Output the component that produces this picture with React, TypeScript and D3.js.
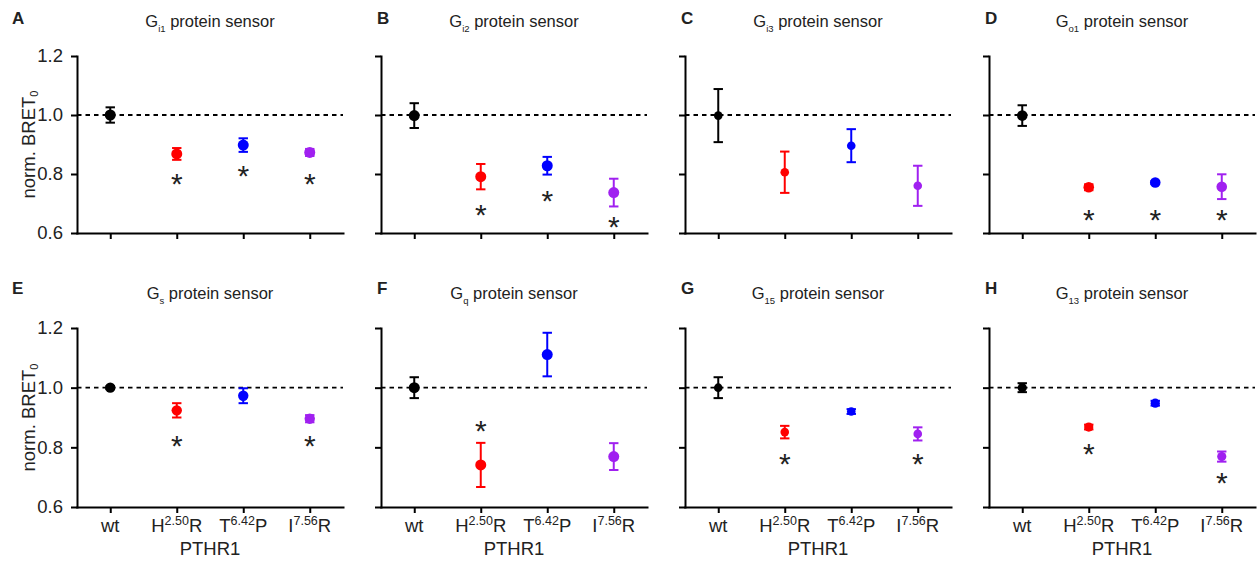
import { useEffect, useRef } from "react";
import * as d3 from "d3";

// categories on the x axis (PTHR1 variants)
const categories = ["wt", "H2.50R", "T6.42P", "I7.56R"];
const tickMain = ["wt", "H", "T", "I"];
const tickSup = ["", "2.50", "6.42", "7.56"];
const tickEnd = ["", "R", "P", "R"];

const panelLetters = ["A", "B", "C", "D", "E", "F", "G", "H"];
const sensorSub = ["i1", "i2", "i3", "o1", "s", "q", "15", "13"];

const yTicks = [0.6, 0.8, 1.0, 1.2];

// norm. BRET0 means, one row per panel (wt, H2.50R, T6.42P, I7.56R)
const means = [
  [1.0, 0.868, 0.898, 0.873],
  [0.998, 0.791, 0.828, 0.737],
  [0.998, 0.806, 0.896, 0.76],
  [0.998, 0.755, 0.771, 0.757],
  [1.0, 0.924, 0.973, 0.896],
  [1.0, 0.741, 1.111, 0.769],
  [1.0, 0.851, 0.92, 0.845],
  [1.0, 0.868, 0.948, 0.769],
];

// error bars (+/-)
const errors = [
  [0.026, 0.02, 0.023, 0.012],
  [0.042, 0.043, 0.03, 0.047],
  [0.09, 0.07, 0.056, 0.068],
  [0.035, 0.01, 0.005, 0.042],
  [0.005, 0.024, 0.025, 0.012],
  [0.035, 0.074, 0.073, 0.045],
  [0.035, 0.021, 0.008, 0.022],
  [0.015, 0.008, 0.008, 0.017],
];

// significance asterisks (value where the star sits, null = none)
const stars = [
  [null, 0.79, 0.817, 0.79],
  [null, 0.685, 0.732, 0.644],
  [null, null, null, null],
  [null, 0.668, 0.668, 0.668],
  [null, 0.83, null, 0.83],
  [null, 0.879, null, null],
  [null, 0.769, null, 0.769],
  [null, 0.802, null, 0.704],
];

const colors = ["#000000", "#ff0000", "#0000ff", "#a020f0"];
const markerRadius = [5.5, 5.5, 4.3, 5.3, 5.2, 5.5, 4.3, 4.6];

const FONT = "'Liberation Sans', Arial, Helvetica, sans-serif";

export default function App() {
  const ref = useRef<SVGSVGElement | null>(null);

  useEffect(() => {
    const svg = d3.select(ref.current);
    svg.selectAll("*").remove();

    const plotW = 266;
    const yRanges = [
      [233, 56],
      [507, 328],
    ];
    const titleY = [27, 299];
    const letterY = [24, 294];
    const starSize = 30;

    panelLetters.forEach((letter, i) => {
      const col = i % 4;
      const row = Math.floor(i / 4);
      const x0 = 77 + col * 304;

      const x = d3.scalePoint().domain(categories).range([0, plotW]).padding(0.5);
      const y = d3.scaleLinear().domain([0.6, 1.2]).range(yRanges[row]);

      const g = svg.append("g").attr("transform", `translate(${x0},0)`);

      // y axis
      const yAxis = d3
        .axisLeft(y)
        .tickValues(yTicks)
        .tickSize(6)
        .tickSizeOuter(0)
        .tickPadding(8)
        .tickFormat((d) => (col === 0 ? d3.format(".1f")(d as number) : ""));
      const ya = g.append("g").call(yAxis);
      ya.select(".domain").attr("stroke-width", 2).attr("stroke-linecap", "square");
      ya.selectAll(".tick line").attr("stroke-width", 2);
      ya.selectAll(".tick text")
        .attr("font-size", 18.5)
        .attr("font-family", FONT)
        .attr("fill", "#222");

      // x axis
      const xAxis = d3
        .axisBottom(x)
        .tickSize(6)
        .tickSizeOuter(0)
        .tickFormat(() => "");
      const xa = g
        .append("g")
        .attr("transform", `translate(0,${y(0.6)})`)
        .call(xAxis);
      xa.select(".domain").attr("stroke-width", 2).attr("stroke-linecap", "square");
      xa.selectAll(".tick line").attr("stroke-width", 2);

      // reference line at 1.0
      g.append("line")
        .attr("x1", 0)
        .attr("x2", plotW)
        .attr("y1", y(1))
        .attr("y2", y(1))
        .attr("stroke", "#000")
        .attr("stroke-width", 1.8)
        .attr("stroke-dasharray", "4.5,4");

      // error bars + points
      categories.forEach((c, j) => {
        const cx = x(c) as number;
        const m = means[i][j];
        const e = errors[i][j];
        const col_ = colors[j];
        const cap = 4.7;
        g.append("line")
          .attr("x1", cx)
          .attr("x2", cx)
          .attr("y1", y(m - e))
          .attr("y2", y(m + e))
          .attr("stroke", col_)
          .attr("stroke-width", 2);
        [m - e, m + e].forEach((v) => {
          g.append("line")
            .attr("x1", cx - cap)
            .attr("x2", cx + cap)
            .attr("y1", y(v))
            .attr("y2", y(v))
            .attr("stroke", col_)
            .attr("stroke-width", 2);
        });
        g.append("circle")
          .attr("cx", cx)
          .attr("cy", y(m))
          .attr("r", markerRadius[i])
          .attr("fill", col_);

        const s = stars[i][j];
        if (s !== null) {
          g.append("text")
            .attr("x", cx)
            .attr("y", y(s) + 0.58 * starSize)
            .attr("text-anchor", "middle")
            .attr("font-family", FONT)
            .attr("font-size", starSize)
            .attr("fill", "#222")
            .text("*");
        }
      });

      // title
      const t = svg
        .append("text")
        .attr("x", x0 + plotW / 2)
        .attr("y", titleY[row])
        .attr("text-anchor", "middle")
        .attr("font-family", FONT)
        .attr("font-size", 16.5)
        .attr("fill", "#222");
      t.append("tspan").text("G");
      t.append("tspan").attr("font-size", 9.5).attr("dy", 5).text(sensorSub[i]);
      t.append("tspan").attr("dy", -5).text(" protein sensor");

      // panel letter
      svg
        .append("text")
        .attr("x", col === 0 ? 12 : x0 - 4)
        .attr("y", letterY[row])
        .attr("font-family", FONT)
        .attr("font-weight", "bold")
        .attr("font-size", 17)
        .attr("fill", "#222")
        .text(letter);

      // y axis label
      if (col === 0) {
        const cy = (yRanges[row][0] + yRanges[row][1]) / 2;
        const yl = svg
          .append("text")
          .attr("transform", `translate(35,${cy}) rotate(-90)`)
          .attr("text-anchor", "middle")
          .attr("font-family", FONT)
          .attr("font-size", 18.5)
          .attr("fill", "#222");
        yl.append("tspan").text("norm. BRET");
        yl.append("tspan").attr("font-size", 11).attr("dy", 3).text("0");
      }

      // x tick labels + axis title on the bottom row
      if (row === 1) {
        categories.forEach((c, j) => {
          const tx = g
            .append("text")
            .attr("x", x(c) as number)
            .attr("y", 532)
            .attr("text-anchor", "middle")
            .attr("font-family", FONT)
            .attr("font-size", 18.5)
            .attr("fill", "#222");
          tx.append("tspan").text(tickMain[j]);
          if (tickSup[j]) {
            tx.append("tspan").attr("font-size", 12.5).attr("dy", -7).text(tickSup[j]);
            tx.append("tspan").attr("dy", 7).text(tickEnd[j]);
          }
        });
        g.append("text")
          .attr("x", plotW / 2)
          .attr("y", 555)
          .attr("text-anchor", "middle")
          .attr("font-family", FONT)
          .attr("font-size", 18.5)
          .attr("fill", "#222")
          .text("PTHR1");
      }
    });
  }, []);

  return (
    <svg
      ref={ref}
      width={1257}
      height={562}
      style={{ position: "absolute", left: 0, top: 0, background: "#fff" }}
    />
  );
}
